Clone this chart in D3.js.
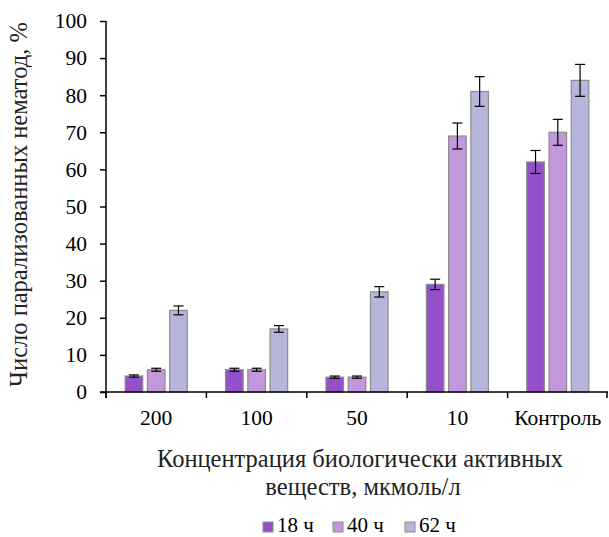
<!DOCTYPE html>
<html>
<head>
  <style>
    body { margin: 0; background: #fff; }
    svg text { font-family: 'Liberation Serif', serif; }
  </style>
</head>
<body>
  <div id="chart"></div>

  <script src="https://d3js.org/d3.v7.min.js"></script>
  <script>
    const categories = ['200', '100', '50', '10', 'Контроль'];
    const seriesNames = ['18 ч', '40 ч', '62 ч'];
    const seriesColors = ['#9450c8', '#c397dc', '#b6b5dc'];
    const values18 = [4.3, 6, 4, 29, 62];
    const values40 = [6, 6, 4, 69, 70];
    const values62 = [22, 17, 27, 81, 84];
    const errors18 = [0.3, 0.4, 0.3, 1.4, 3.1];
    const errors40 = [0.4, 0.4, 0.3, 3.5, 3.5];
    const errors62 = [1.2, 0.9, 1.4, 4, 4.3];
    const yTicks = [0, 10, 20, 30, 40, 50, 60, 70, 80, 90, 100];

    const seriesValues = [values18, values40, values62];
    const seriesErrors = [errors18, errors40, errors62];

    const FONT = "'Liberation Serif'";
    const FS = '21.5px';
    const TITLE_FS = '24.5px';
    const width = 609;
    const height = 537;
    const margin = { top: 21, right: 1, bottom: 145, left: 106 };

    const svg = d3.select('#chart')
      .append('svg')
      .attr('width', width)
      .attr('height', height);

    const x = d3.scaleBand()
      .domain(categories)
      .range([margin.left, width - margin.right])
      .paddingInner(0)
      .paddingOuter(0);

    const xSeries = d3.scaleBand()
      .domain(seriesNames)
      .range([0, x.bandwidth()])
      .paddingInner(0.21)
      .paddingOuter(0.86);

    const y = d3.scaleLinear()
      .domain([0, 100])
      .range([height - margin.bottom, margin.top]);

    // bars
    seriesNames.forEach((name, si) => {
      const g = svg.append('g');
      g.selectAll('rect')
        .data(categories)
        .enter()
        .append('rect')
        .attr('x', c => x(c) + xSeries(name))
        .attr('y', (c, i) => y(seriesValues[si][i]))
        .attr('width', xSeries.bandwidth())
        .attr('height', (c, i) => y(0) - y(seriesValues[si][i]))
        .attr('fill', seriesColors[si])
        .attr('stroke', '#8c8c8c')
        .attr('stroke-width', 1.2);

      // error bars
      const eb = g.selectAll('g.err')
        .data(categories)
        .enter()
        .append('g')
        .attr('class', 'err')
        .attr('stroke', '#000')
        .attr('stroke-width', 1.2);
      const cx = c => x(c) + xSeries(name) + xSeries.bandwidth() / 2;
      eb.append('line')
        .attr('x1', cx).attr('x2', cx)
        .attr('y1', (c, i) => y(seriesValues[si][i] + seriesErrors[si][i]))
        .attr('y2', (c, i) => y(seriesValues[si][i] - seriesErrors[si][i]));
      [1, -1].forEach(sgn => {
        eb.append('line')
          .attr('x1', c => cx(c) - 5).attr('x2', c => cx(c) + 5)
          .attr('y1', (c, i) => y(seriesValues[si][i] + sgn * seriesErrors[si][i]))
          .attr('y2', (c, i) => y(seriesValues[si][i] + sgn * seriesErrors[si][i]));
      });
    });

    // y axis
    const yAxis = svg.append('g')
      .attr('transform', `translate(${margin.left},0)`)
      .call(d3.axisLeft(y).tickValues(yTicks).tickSize(6).tickPadding(13));
    yAxis.attr('font-family', null).attr('font-size', null);
    yAxis.selectAll('text')
      .style('font-family', FONT).style('font-size', FS).attr('fill', '#000');
    yAxis.selectAll('line, path').attr('stroke', '#000').attr('stroke-width', 1.5);
    yAxis.select('.domain').attr('d', `M0,${y(0) + 6}V${y(100)}`);

    // x axis
    const xAxis = svg.append('g')
      .attr('transform', `translate(0,${y(0)})`)
      .call(d3.axisBottom(x).tickSize(0).tickPadding(18));
    xAxis.attr('font-family', null).attr('font-size', null);
    xAxis.selectAll('text')
      .style('font-family', FONT).style('font-size', FS).attr('fill', '#000');
    xAxis.select('.domain').attr('stroke', '#000').attr('stroke-width', 1.5)
      .attr('d', `M${margin.left - 6},0H${width - margin.right}`);
    xAxis.append('g')
      .selectAll('line')
      .data(categories.concat(['end']))
      .enter()
      .append('line')
      .attr('x1', (c, i) => i < categories.length ? x(c) : x.range()[1] - 1)
      .attr('x2', (c, i) => i < categories.length ? x(c) : x.range()[1] - 1)
      .attr('y1', 0)
      .attr('y2', 6)
      .attr('stroke', '#000')
      .attr('stroke-width', 1.5);

    // axis titles
    svg.append('text')
      .attr('transform', `translate(27,${(y(0) + y(100)) / 2 - 2}) rotate(-90)`)
      .attr('text-anchor', 'middle')
      .style('font-family', FONT).style('font-size', TITLE_FS)
      .attr('fill', '#222')
      .text('Число парализованных нематод, %');

    const xTitle = svg.append('g')
      .attr('text-anchor', 'middle')
      .style('font-family', FONT).style('font-size', TITLE_FS)
      .attr('fill', '#222');
    xTitle.append('text').attr('x', 360).attr('y', 467)
      .text('Концентрация биологически активных');
    xTitle.append('text').attr('x', 363).attr('y', 495)
      .text('веществ, мкмоль/л');

    // legend
    const legendX = [263, 333, 405];
    const legend = svg.append('g');
    seriesNames.forEach((name, i) => {
      legend.append('rect')
        .attr('x', legendX[i])
        .attr('y', 522)
        .attr('width', 10)
        .attr('height', 10)
        .attr('fill', seriesColors[i])
        .attr('stroke', '#8c8c8c')
        .attr('stroke-width', 1);
      legend.append('text')
        .attr('x', legendX[i] + 14)
        .attr('y', 532)
        .style('font-family', FONT).style('font-size', '21px')
        .attr('fill', '#000')
        .text(name);
    });
  </script>
</body>
</html>
